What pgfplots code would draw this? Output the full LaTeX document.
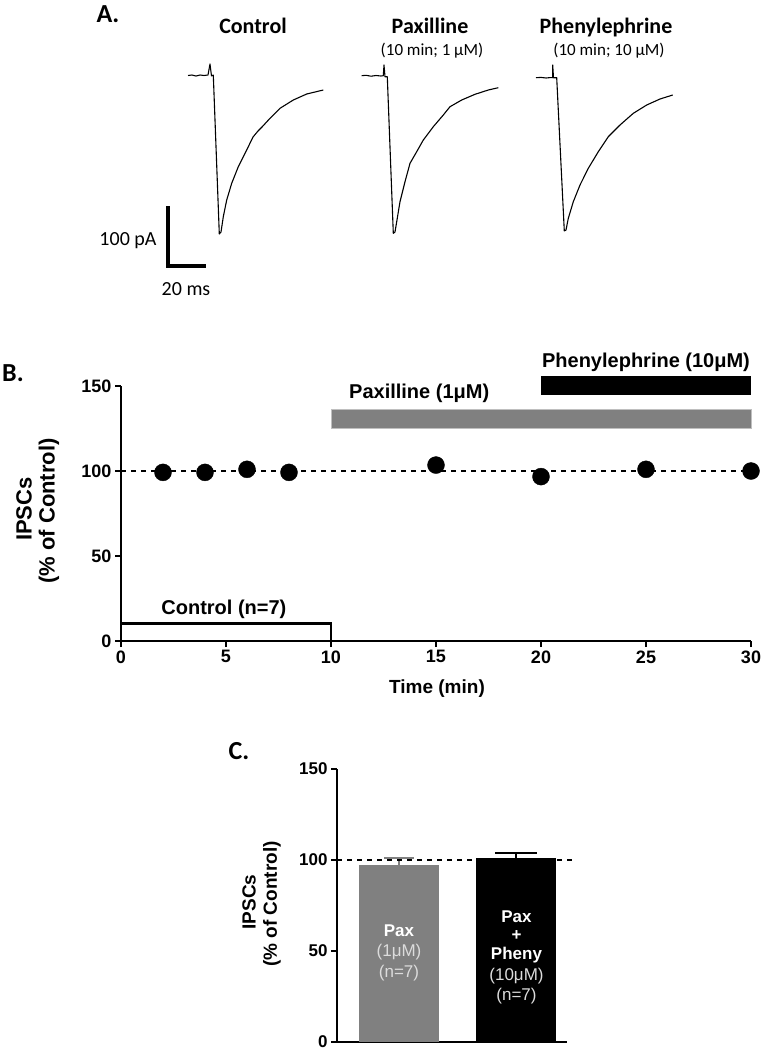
\documentclass[border=0pt]{standalone}
\usepackage{pgfplots}
\pgfplotsset{compat=1.18}
\usepackage{fontspec}
\setmainfont{Liberation Sans}
\newfontfamily\calibri{Carlito}
\definecolor{barGray}{RGB}{128,128,128}
\definecolor{txtGray}{RGB}{220,220,220}
\begin{document}
\begin{tikzpicture}[x=1pt,y=1pt]
\useasboundingbox (0,0) rectangle (763,-1050);
% ---------------- Panel A (traces, coordinates in figure units) ----------------
\begin{axis}[at={(0pt,0pt)}, anchor=north west, scale only axis, width=763pt, height=300pt,
  xmin=0, xmax=763, ymin=0, ymax=300, y dir=reverse, hide axis, clip=false]
% Control
\addplot[black, line width=1.1pt, line join=round] coordinates {
(188,75.5)(192,75)(196,76)(200,75)(204,75.5)(208,75)(210,64)(211.5,76)(213.3,75)
(219.3,234)(221,232)(223.3,216.7)(226.7,200)(231.7,183.3)(238.3,166.7)(246.7,150)
(253,137)(258,131)(262,127)(270,118.3)(280,108.3)(293.3,100)(306.7,94)(315,92)(323.3,90)};
% Paxilline
\addplot[black, line width=1.1pt, line join=round] coordinates {
(361.7,75.7)(366,75.3)(371,76.2)(376,75.5)(381,76)(383.3,75.7)(384,65)(385,76.7)(387.3,76.7)
(393.3,233.3)(395,232)(396.7,221.7)(400,201.7)(405,181.7)(410,163.3)(416.7,151.7)(423.3,140)
(433.3,126.7)(443.3,115)(450,106.7)(461.7,100)(475,94.3)(488.3,90)(498.3,87.7)};
% Phenylephrine
\addplot[black, line width=1.1pt, line join=round] coordinates {
(536,77.7)(541,77.4)(546,78)(550,77.6)(552.7,77.7)(552.7,65)(553.5,77.8)(556.7,77.7)
(564.3,231)(566,230)(568.3,218.3)(573.3,201.7)(580,185)(588.3,168.3)(598.3,151.7)
(608.3,136.7)(620,125)(633.3,113.3)(646.7,105)(660,99)(672.7,95)};
% scale bar (20 ms x 100 pA)
\addplot[black, line width=3.5pt, line cap=rect] coordinates {(168,208)(168,266)(204,266)};
\end{axis}
\node[font=\calibri\bfseries\fontsize{26}{26}\selectfont] at (108,-14) {A.};
\node[font=\calibri\bfseries\fontsize{22}{22}\selectfont, anchor=base] at (253,-33) {Control};
\node[font=\calibri\bfseries\fontsize{22}{22}\selectfont, anchor=base] at (430,-33) {Paxilline};
\node[font=\calibri\fontsize{17}{17}\selectfont, anchor=base] at (432,-55) {(10 min; 1 μM)};
\node[font=\calibri\bfseries\fontsize{22}{22}\selectfont, anchor=base] at (606,-33) {Phenylephrine};
\node[font=\calibri\fontsize{17}{17}\selectfont, anchor=base] at (609,-55) {(10 min; 10 μM)};
\node[font=\calibri\fontsize{20}{20}\selectfont, anchor=base] at (128,-245) {100 pA};
\node[font=\calibri\fontsize{20}{20}\selectfont, anchor=base] at (186,-295) {20 ms};
% ---------------- Panel B ----------------
\begin{axis}[at={(121pt,-641pt)}, anchor=south west, scale only axis, width=630pt, height=255pt,
  xmin=0, xmax=30, ymin=0, ymax=150, axis x line=bottom, axis y line=left,
  axis line style={line width=2pt, -}, xtick={0,5,...,30}, ytick={0,50,100,150},
  tick style={line width=2pt, black}, tick align=outside, major tick length=6pt,
  tick label style={font=\bfseries\fontsize{18}{18}\selectfont},
  /pgf/number format/assume math mode=true, clip=false]
\addplot[fill=barGray, draw=barGray!50, line width=1pt] coordinates {(10,125)(30,125)(30,136)(10,136)} --cycle;
\addplot[fill=black, draw=none] coordinates {(20,145)(30,145)(30,156)(20,156)} --cycle;
\addplot[fill=white, draw=black, line width=2.8pt] coordinates {(0,0)(10,0)(10,10.2)(0,10.2)} --cycle;
\addplot[black, line width=2pt, dash pattern=on 5pt off 5pt] coordinates {(0,100)(30,100)};
\addplot[only marks, mark=*, mark size=8.5pt, black] coordinates {
(2,99.2)(4,99.2)(6,101)(8,99.2)(15,103.5)(20,96.7)(25,101)(30,100)};
\node[font=\bfseries\fontsize{20}{20}\selectfont] at (axis cs:25,164) {Phenylephrine (10μM)};
\node[font=\bfseries\fontsize{20}{20}\selectfont] at (axis cs:14.2,145.5) {Paxilline (1μM)};
\node[font=\bfseries\fontsize{20}{20}\selectfont] at (axis cs:4.9,18.7) {Control (n=7)};
\end{axis}
\node[font=\calibri\bfseries\fontsize{26}{26}\selectfont] at (13,-373) {B.};
\node[font=\bfseries\fontsize{22}{22}\selectfont, rotate=90] at (24,-509) {IPSCs};
\node[font=\bfseries\fontsize{22}{22}\selectfont, rotate=90] at (49,-511) {(\% of Control)};
\node[font=\bfseries\fontsize{19}{19}\selectfont] at (437,-689) {Time (min)};
% ---------------- Panel C ----------------
\begin{axis}[at={(337pt,-1042pt)}, anchor=south west, scale only axis, width=230pt, height=273pt,
  xmin=0.472, xmax=2.43, ymin=0, ymax=150, axis x line=bottom, axis y line=left,
  axis line style={line width=2pt, -}, xtick=\empty, ytick={0,50,100,150},
  tick style={line width=2pt, black}, tick align=outside, major tick length=6pt,
  tick label style={font=\bfseries\fontsize{17}{17}\selectfont},
  /pgf/number format/assume math mode=true, clip=false]
\addplot[ybar, bar width=80pt, bar shift=0pt, fill=barGray, draw=none,
  error bars/.cd, y dir=plus, y explicit,
  error bar style={barGray, line width=2pt},
  error mark options={rotate=90, mark size=15pt, line width=2pt, barGray}]
  coordinates {(1,97.3) +- (0,3.7)};
\addplot[ybar, bar width=80pt, bar shift=0pt, fill=black, draw=none,
  error bars/.cd, y dir=plus, y explicit,
  error bar style={black, line width=2pt},
  error mark options={rotate=90, mark size=21pt, line width=2pt, black}]
  coordinates {(2,101) +- (0,2.6)};
\addplot[black, line width=1.8pt, dash pattern=on 5pt off 5pt] coordinates {(0.472,100)(2.51,100)};
\node[font=\bfseries\fontsize{17}{17}\selectfont, white] at (axis cs:1,61.4) {Pax};
\node[font=\fontsize{17}{17}\selectfont, txtGray] at (axis cs:1,49.4) {(1μM)};
\node[font=\fontsize{17}{17}\selectfont, txtGray] at (axis cs:1,37.8) {(n=7)};
\node[font=\bfseries\fontsize{17}{17}\selectfont, white] at (axis cs:2,68.8) {Pax};
\node[font=\bfseries\fontsize{17}{17}\selectfont, white] at (axis cs:2,58.7) {+};
\node[font=\bfseries\fontsize{17}{17}\selectfont, white] at (axis cs:2,47.6) {Pheny};
\node[font=\fontsize{17}{17}\selectfont, txtGray] at (axis cs:2,36) {(10μM)};
\node[font=\fontsize{17}{17}\selectfont, txtGray] at (axis cs:2,25.5) {(n=7)};
\end{axis}
\node[font=\calibri\bfseries\fontsize{26}{26}\selectfont] at (239,-751) {C.};
\node[font=\bfseries\fontsize{19}{19}\selectfont, rotate=90] at (249,-902) {IPSCs};
\node[font=\bfseries\fontsize{19}{19}\selectfont, rotate=90] at (272,-904) {(\% of Control)};
\end{tikzpicture}
\end{document}
